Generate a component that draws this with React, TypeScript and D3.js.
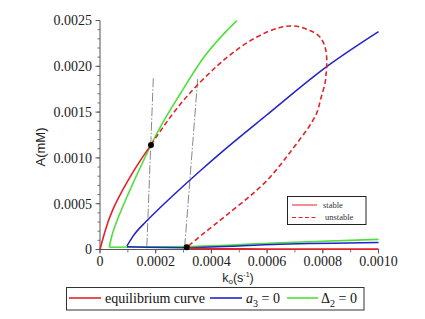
import React from "react";
import * as d3 from "d3";

type Pt = [number, number];

// equilibrium curve, stable branch starting at origin (k0, A)
const eqStableUpper: Pt[] = [
  [0, 0], [0.0000097, 0.00011], [0.0000276, 0.00029], [0.0000513, 0.00047],
  [0.0000815, 0.00065], [0.0001174, 0.00084], [0.00015, 0.000995], [0.0001831, 0.001141],
];
// equilibrium curve, unstable loop (dashed)
const eqUnstable: Pt[] = [
  [0.0001831, 0.001141], [0.0002047, 0.00124], [0.0002273, 0.00134], [0.0002549, 0.001456],
  [0.0002873, 0.001582], [0.000316, 0.001685], [0.0003472, 0.001788], [0.000395, 0.001931],
  [0.0004309, 0.002032], [0.0004776, 0.002149], [0.0005386, 0.002277], [0.0005996, 0.002374],
  [0.0006463, 0.002423], [0.0006822, 0.00244], [0.0007181, 0.00243], [0.000754, 0.00239],
  [0.0007828, 0.00234], [0.0007971, 0.002287], [0.0008079, 0.002211], [0.0008133, 0.002123],
  [0.000814, 0.001996], [0.0008115, 0.001905], [0.0008079, 0.001818], [0.0007935, 0.001654],
  [0.0007781, 0.00149], [0.0007504, 0.00134], [0.0007181, 0.001205], [0.0006822, 0.00106],
  [0.0006571, 0.00096], [0.0006284, 0.000853], [0.0005986, 0.00075], [0.0005601, 0.000641],
  [0.0005268, 0.000553], [0.0004776, 0.000432], [0.0004309, 0.000318], [0.0003709, 0.000172],
  [0.0003113, 0.000024],
];
// equilibrium curve, lower stable branch
const eqStableLower: Pt[] = [
  [0.0003113, 0.000024], [0.00034, 0.000012], [0.0004, 0.000007], [0.0006, 0.000005], [0.001, 0.000004],
];
// a3 = 0
const a3Upper: Pt[] = [
  [0.0000969, 0.000038], [0.0001174, 0.00014], [0.0001652, 0.000305], [0.0002154, 0.000455],
  [0.0002632, 0.000592], [0.0003591, 0.000857], [0.000437, 0.001063], [0.0005986, 0.001468],
  [0.000814, 0.001996], [0.001, 0.002378],
];
const a3Lower: Pt[] = [
  [0.0000969, 0.00003], [0.000312, 0.00002], [0.000646, 0.000057], [0.001, 0.000076],
];
// Delta2 = 0
const d2Upper: Pt[] = [
  [0.0000334, 0.000024], [0.00004, 0.00012], [0.000058, 0.00029], [0.000082, 0.00047],
  [0.00011, 0.000665], [0.00014, 0.000865], [0.0001831, 0.001141], [0.0002273, 0.001395],
  [0.0002873, 0.001695], [0.0003709, 0.00209], [0.0004909, 0.002498],
];
const d2Lower: Pt[] = [
  [0.0000334, 0.000024], [0.000312, 0.000031], [0.000646, 0.000074], [0.001, 0.000111],
];
// thin guide lines and marked points
const guideLines: Pt[][] = [
  [[0.0001914, 0.001869], [0.0001677, 0]],
  [[0.0003508, 0.001861], [0.0003034, 0]],
];
const markedPoints: Pt[] = [[0.0001831, 0.001141], [0.0003113, 0.000024]];

const xTickValues = [0, 0.0002, 0.0004, 0.0006, 0.0008, 0.001];
const xTickLabels = ["0", "0.0002", "0.0004", "0.0006", "0.0008", "0.0010"];
const yTickValues = [0, 0.0005, 0.001, 0.0015, 0.002, 0.0025];
const yTickLabels = ["0", "0.0005", "0.0010", "0.0015", "0.0020", "0.0025"];

const RED = "#e2232a";
const BLUE = "#2222cc";
const GREEN = "#4ee03a";
const SERIF = "'Liberation Serif', 'DejaVu Serif', serif";
const SANS = "'Liberation Sans', Arial, sans-serif";

export default function App() {
  const W = 425;
  const H = 319;
  const x = d3.scaleLinear().domain([0, 0.001]).range([100, 378.5]);
  const y = d3.scaleLinear().domain([0, 0.0025]).range([249.5, 20.5]);

  // monotone in k for the simple branches, catmull-rom for the loop
  const mono = d3
    .line<Pt>()
    .x((d) => x(d[0]))
    .y((d) => y(d[1]))
    .curve(d3.curveMonotoneX);
  const loop = d3
    .line<Pt>()
    .x((d) => x(d[0]))
    .y((d) => y(d[1]))
    .curve(d3.curveCatmullRom.alpha(0.5));
  const straight = d3
    .line<Pt>()
    .x((d) => x(d[0]))
    .y((d) => y(d[1]));

  const xMinor = x.ticks(10);
  const yMinor = y.ticks(25);

  return (
    <div style={{ position: "absolute", left: 0, top: 0 }}>
      <svg width={W} height={H} style={{ display: "block", background: "#fff" }}>
        {/* axes */}
        <line x1={x(0)} x2={x(0)} y1={y(0)} y2={y(0.0025)} stroke="#555" strokeWidth={1} />
        <line x1={x(0)} x2={x(0.001)} y1={y(0)} y2={y(0)} stroke="#555" strokeWidth={1} />
        {yMinor.map((v, i) => (
          <line key={"ym" + i} x1={x(0) - 2.5} x2={x(0)} y1={y(v)} y2={y(v)} stroke="#555" strokeWidth={0.8} />
        ))}
        {yTickValues.map((v, i) => (
          <g key={"yt" + i}>
            <line x1={x(0) - 4.5} x2={x(0)} y1={y(v)} y2={y(v)} stroke="#555" strokeWidth={1} />
            <text x={92} y={y(v)} dy="0.35em" textAnchor="end" fontFamily={SERIF} fontSize={14} fill="#222">
              {yTickLabels[i]}
            </text>
          </g>
        ))}
        {xMinor.map((v, i) => (
          <line key={"xm" + i} x1={x(v)} x2={x(v)} y1={y(0)} y2={y(0) + 3} stroke="#555" strokeWidth={0.8} />
        ))}
        {xTickValues.map((v, i) => (
          <g key={"xt" + i}>
            <line x1={x(v)} x2={x(v)} y1={y(0)} y2={y(0) + 4} stroke="#555" strokeWidth={1} />
            <text x={x(v)} y={266} textAnchor="middle" fontFamily={SERIF} fontSize={14} fill="#222">
              {xTickLabels[i]}
            </text>
          </g>
        ))}
        <text x={238} y={282} textAnchor="middle" fontFamily={SANS} fontSize={12.5} fill="#222">
          k<tspan fontSize={8} dy={2}>o</tspan>
          <tspan dy={-2}>(s</tspan>
          <tspan fontSize={7} dy={-5}>-1</tspan>
          <tspan dy={5}>)</tspan>
        </text>
        <text
          transform={`translate(45,147) rotate(-90)`}
          textAnchor="middle"
          fontFamily={SANS}
          fontSize={13}
          fill="#222"
        >
          A(mM)
        </text>

        {/* guide lines */}
        {guideLines.map((g, i) => (
          <path key={"g" + i} d={straight(g) ?? ""} fill="none" stroke="#555" strokeWidth={0.7} strokeDasharray="9,2,1.5,2" />
        ))}

        {/* curves */}
        <path d={mono(d2Upper) ?? ""} fill="none" stroke={GREEN} strokeWidth={1.6} />
        <path d={mono(d2Lower) ?? ""} fill="none" stroke={GREEN} strokeWidth={1.6} />
        <path d={mono(a3Upper) ?? ""} fill="none" stroke={BLUE} strokeWidth={1.5} />
        <path d={mono(a3Lower) ?? ""} fill="none" stroke={BLUE} strokeWidth={1.5} />
        <path d={mono(eqStableUpper) ?? ""} fill="none" stroke={RED} strokeWidth={1.6} />
        <path d={mono(eqStableLower) ?? ""} fill="none" stroke={RED} strokeWidth={1.8} />
        <path d={loop(eqUnstable) ?? ""} fill="none" stroke={RED} strokeWidth={1.6} strokeDasharray="5,3" />

        {markedPoints.map((p, i) => (
          <circle key={"p" + i} cx={x(p[0])} cy={y(p[1])} r={3} fill="#000" />
        ))}

        {/* inner legend */}
        <rect x={287.5} y={196.5} width={78.5} height={28} fill="#fff" stroke="#222" strokeWidth={1} />
        <line x1={292} x2={317} y1={205} y2={205} stroke={RED} strokeWidth={1} />
        <text x={323} y={205} dy="0.35em" fontFamily={SERIF} fontSize={8.5} fill="#333">stable</text>
        <line x1={292} x2={317} y1={217.5} y2={217.5} stroke={RED} strokeWidth={1} strokeDasharray="4,2.5" />
        <text x={325} y={217.5} dy="0.35em" fontFamily={SERIF} fontSize={8.5} fill="#333">unstable</text>

        {/* bottom legend */}
        <rect x={66.5} y={287.5} width={297.5} height={22.5} fill="#fff" stroke="#333" strokeWidth={1} />
        <line x1={69} x2={101} y1={298} y2={298} stroke={RED} strokeWidth={1.6} />
        <text x={105} y={298} dy="0.35em" fontFamily={SERIF} fontSize={14} fill="#111">equilibrium curve</text>
        <line x1={210} x2={242} y1={298} y2={298} stroke={BLUE} strokeWidth={1.6} />
        <text x={246} y={298} dy="0.35em" fontFamily={SERIF} fontSize={14} fill="#111">
          <tspan fontStyle="italic">a</tspan>
          <tspan fontSize={10} dy={4}>3</tspan>
          <tspan dy={-4}> = 0</tspan>
        </text>
        <line x1={287} x2={318} y1={298} y2={298} stroke={GREEN} strokeWidth={1.6} />
        <text x={321} y={298} dy="0.35em" fontFamily={SERIF} fontSize={14} fill="#111">
          Δ<tspan fontSize={10} dy={4}>2</tspan>
          <tspan dy={-4}> = 0</tspan>
        </text>
      </svg>
    </div>
  );
}
